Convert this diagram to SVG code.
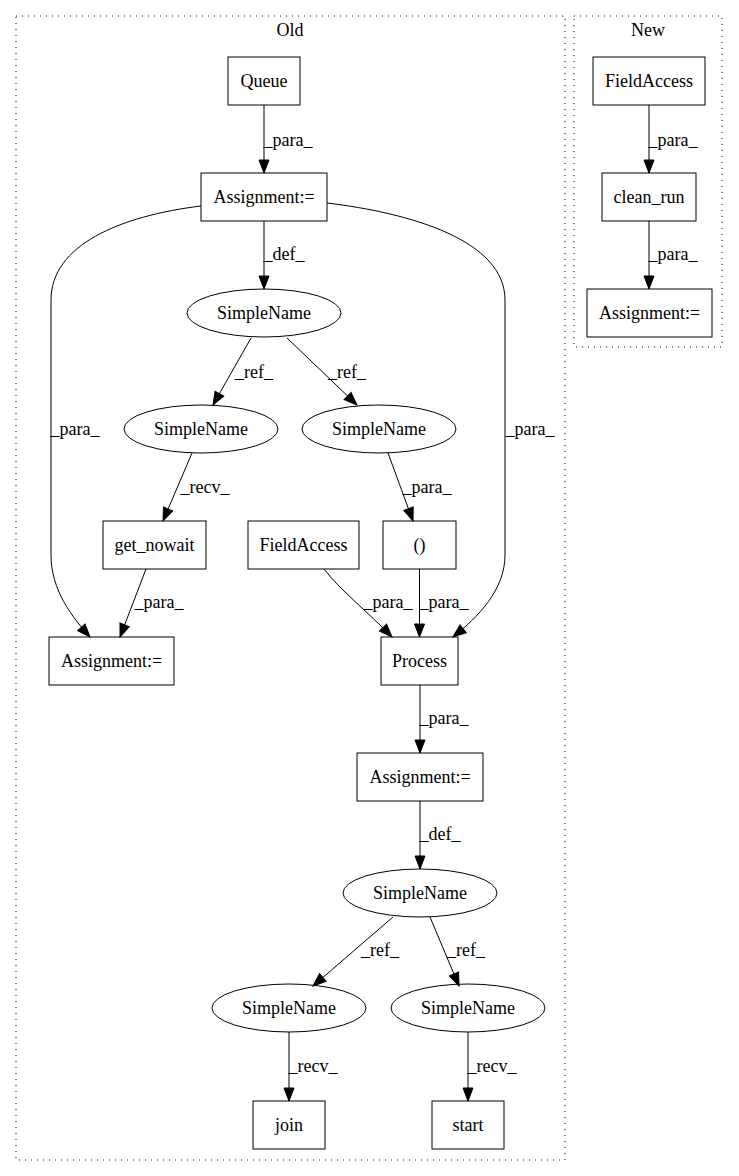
<svg xmlns="http://www.w3.org/2000/svg" width="739" height="1176" viewBox="0 0 739 1176">
<style>
text{font-family:"Liberation Serif","Times New Roman",serif;font-size:18px;fill:#000;text-anchor:middle}
.n{fill:none;stroke:#000;stroke-width:1}
.e{fill:none;stroke:#000;stroke-width:1}
.c{fill:none;stroke:#000;stroke-width:1;stroke-dasharray:1,5}
</style>
<defs>
<marker id="arr" markerUnits="userSpaceOnUse" markerWidth="14" markerHeight="11" refX="13" refY="5" orient="auto" overflow="visible">
<path d="M0,0 L13,5 L0,10 z" fill="#000" stroke="#000" stroke-width="1"/>
</marker>
</defs>
<rect width="739" height="1176" fill="#fff"/>
<g id="cluster_old">
<rect class="c" x="16" y="16" width="549" height="1144"/>
<text x="290" y="36">Old</text>
</g>
<g id="cluster_new">
<rect class="c" x="574" y="16" width="148" height="331"/>
<text x="648" y="36">New</text>
</g>
<g id="connectors">
<path class="e" d="M264,105 L264,173" marker-end="url(#arr)"/>
<text x="288" y="146">_para_</text>
<path class="e" d="M264,221 L264,289" marker-end="url(#arr)"/>
<text x="284" y="260">_def_</text>
<path class="e" d="M201,206 C120,216 51,245 51,300 L51,555 C51,590 72,617 90,637" marker-end="url(#arr)"/>
<text x="75" y="435">_para_</text>
<path class="e" d="M327,203 C410,213 505,240 505,300 L505,555 C505,590 478,617 453,637" marker-end="url(#arr)"/>
<text x="530" y="435">_para_</text>
<path class="e" d="M251,338 L213,405" marker-end="url(#arr)"/>
<text x="254" y="378">_ref_</text>
<path class="e" d="M287,338 L357,405" marker-end="url(#arr)"/>
<text x="347" y="378">_ref_</text>
<path class="e" d="M192,453 L163,521" marker-end="url(#arr)"/>
<text x="205" y="493">_recv_</text>
<path class="e" d="M388,453 L413,521" marker-end="url(#arr)"/>
<text x="427" y="493">_para_</text>
<path class="e" d="M146,569 L120,637" marker-end="url(#arr)"/>
<text x="159" y="608">_para_</text>
<path class="e" d="M324,569 C340,590 368,612 392,637" marker-end="url(#arr)"/>
<text x="388" y="608">_para_</text>
<path class="e" d="M419.5,569 L419.5,637" marker-end="url(#arr)"/>
<text x="444" y="608">_para_</text>
<path class="e" d="M420,685 L420,753" marker-end="url(#arr)"/>
<text x="444" y="724">_para_</text>
<path class="e" d="M420,801 L420,869" marker-end="url(#arr)"/>
<text x="440" y="840">_def_</text>
<path class="e" d="M393,917 L313,986" marker-end="url(#arr)"/>
<text x="380" y="956">_ref_</text>
<path class="e" d="M430,917 L459,986" marker-end="url(#arr)"/>
<text x="466" y="956">_ref_</text>
<path class="e" d="M289,1032 L289,1101" marker-end="url(#arr)"/>
<text x="313" y="1072">_recv_</text>
<path class="e" d="M468,1032 L468,1101" marker-end="url(#arr)"/>
<text x="492" y="1072">_recv_</text>
<path class="e" d="M649,105 L649,173" marker-end="url(#arr)"/>
<text x="673" y="146">_para_</text>
<path class="e" d="M649,221 L649,289" marker-end="url(#arr)"/>
<text x="673" y="260">_para_</text>
</g>
<g id="n_queue"><rect class="n" x="228" y="57" width="72" height="48"/><text x="264" y="86.5">Queue</text></g>
<g id="n_assign1"><rect class="n" x="201" y="173" width="126" height="48"/><text x="264" y="202.5">Assignment:=</text></g>
<g id="n_sn1"><ellipse class="n" cx="264" cy="313" rx="77" ry="24"/><text x="264" y="318.5">SimpleName</text></g>
<g id="n_sn2"><ellipse class="n" cx="201" cy="429" rx="77" ry="24"/><text x="201" y="434.5">SimpleName</text></g>
<g id="n_sn3"><ellipse class="n" cx="379" cy="429" rx="77" ry="24"/><text x="379" y="434.5">SimpleName</text></g>
<g id="n_getnowait"><rect class="n" x="103" y="521" width="103" height="48"/><text x="154.5" y="550.5">get_nowait</text></g>
<g id="n_fieldaccess_old"><rect class="n" x="248" y="521" width="111" height="48"/><text x="303.5" y="550.5">FieldAccess</text></g>
<g id="n_paren"><rect class="n" x="383" y="521" width="73" height="48"/><text x="419.5" y="550.5">()</text></g>
<g id="n_assign2"><rect class="n" x="49" y="637" width="125" height="48"/><text x="111.5" y="666.5">Assignment:=</text></g>
<g id="n_process"><rect class="n" x="381" y="637" width="77" height="48"/><text x="419.5" y="666.5">Process</text></g>
<g id="n_assign3"><rect class="n" x="357" y="753" width="126" height="48"/><text x="420" y="782.5">Assignment:=</text></g>
<g id="n_sn4"><ellipse class="n" cx="420" cy="893" rx="77" ry="24"/><text x="420" y="898.5">SimpleName</text></g>
<g id="n_sn5"><ellipse class="n" cx="289" cy="1008" rx="77" ry="24"/><text x="289" y="1013.5">SimpleName</text></g>
<g id="n_sn6"><ellipse class="n" cx="468" cy="1008" rx="77" ry="24"/><text x="468" y="1013.5">SimpleName</text></g>
<g id="n_join"><rect class="n" x="253" y="1101" width="72" height="48"/><text x="289" y="1130.5">join</text></g>
<g id="n_start"><rect class="n" x="432" y="1101" width="72" height="48"/><text x="468" y="1130.5">start</text></g>
<g id="n_fieldaccess_new"><rect class="n" x="593" y="57" width="112" height="48"/><text x="649" y="86.5">FieldAccess</text></g>
<g id="n_cleanrun"><rect class="n" x="602" y="173" width="94" height="48"/><text x="649" y="202.5">clean_run</text></g>
<g id="n_assign_new"><rect class="n" x="587" y="289" width="125" height="48"/><text x="649.5" y="318.5">Assignment:=</text></g>
</svg>
